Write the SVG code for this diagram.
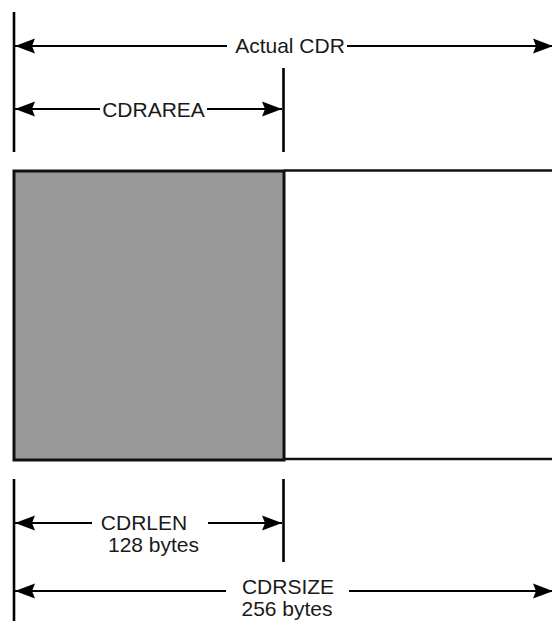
<svg xmlns="http://www.w3.org/2000/svg" width="552" height="621" viewBox="0 0 552 621">
<style>
.lbl{font-family:"Liberation Sans",Arial,sans-serif;font-size:21px;fill:#1a1a1a;text-anchor:middle}
.dim{stroke:#000;stroke-width:2.2;fill:none}
.ext{stroke:#000;stroke-width:2.6}
</style>
<defs>
<marker id="ah" markerUnits="userSpaceOnUse" markerWidth="22" markerHeight="18" viewBox="0 0 22 18" refX="20" refY="9" orient="auto-start-reverse">
<path d="M0,1.5 L20,9 L0,16.5 L3,9 Z" fill="#000"/>
</marker>
</defs>
<rect width="552" height="621" fill="#fff"/>
<g id="cdr-block">
<rect x="14" y="171" width="270" height="289" fill="#999" stroke="#111" stroke-width="3"/>
<line x1="284" y1="170.5" x2="552" y2="170.5" stroke="#111" stroke-width="2.6"/>
<line x1="284" y1="459" x2="552" y2="459" stroke="#111" stroke-width="2.6"/>
</g>
<g id="extension-lines">
<line class="ext" x1="14" y1="12" x2="14" y2="152"/>
<line class="ext" x1="283.5" y1="68" x2="283.5" y2="152"/>
<line class="ext" x1="14" y1="479" x2="14" y2="621"/>
<line class="ext" x1="283.5" y1="479" x2="283.5" y2="562"/>
</g>
<g id="connectors">
<line class="dim" x1="227" y1="46" x2="15" y2="46" marker-end="url(#ah)"/>
<line class="dim" x1="347" y1="46" x2="553" y2="46" marker-end="url(#ah)"/>
<line class="dim" x1="100" y1="109" x2="15" y2="109" marker-end="url(#ah)"/>
<line class="dim" x1="207" y1="109" x2="282" y2="109" marker-end="url(#ah)"/>
<line class="dim" x1="92" y1="523" x2="15" y2="523" marker-end="url(#ah)"/>
<line class="dim" x1="208" y1="523" x2="282" y2="523" marker-end="url(#ah)"/>
<line class="dim" x1="226" y1="591" x2="15" y2="591" marker-end="url(#ah)"/>
<line class="dim" x1="349" y1="591" x2="553" y2="591" marker-end="url(#ah)"/>
</g>
<g id="labels">
<text class="lbl" x="290" y="53">Actual CDR</text>
<text class="lbl" x="153.5" y="116.5">CDRAREA</text>
<text class="lbl" x="144" y="530">CDRLEN</text>
<text class="lbl" x="153.5" y="552">128 bytes</text>
<text class="lbl" x="288" y="594">CDRSIZE</text>
<text class="lbl" x="287" y="616">256 bytes</text>
</g>
</svg>
